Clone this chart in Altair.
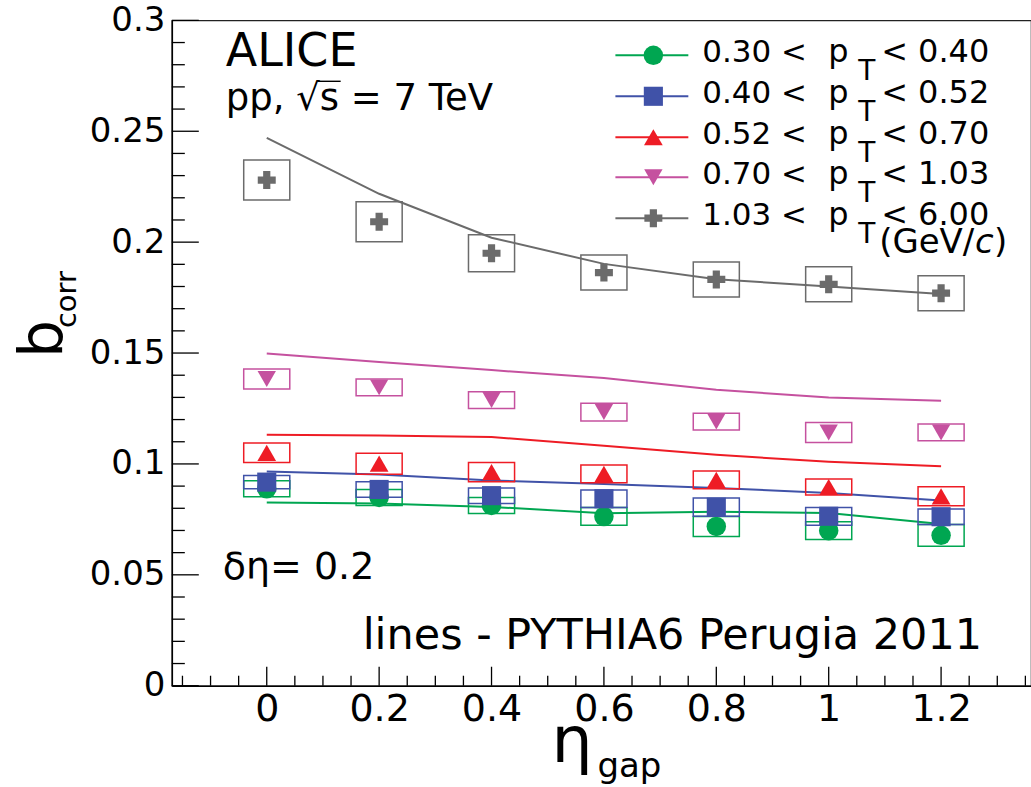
import altair as alt
import pandas as pd

# ---------------- data ----------------
eta_gap = [0.0, 0.2, 0.4, 0.6, 0.8, 1.0, 1.2]

series_names = ["0.30-0.40", "0.40-0.52", "0.52-0.70", "0.70-1.03", "1.03-6.00"]
low_labels = ["0.30 <", "0.40 <", "0.52 <", "0.70 <", "1.03 <"]
high_labels = ["< 0.40", "< 0.52", "< 0.70", "< 1.03", "< 6.00"]
colors = ["#00a651", "#4052a8", "#ee1c25", "#c5519f", "#6b6b6b"]
shapes = ["circle", "square", "triangle-up", "triangle-down", "cross"]
sizes = [380, 324, 420, 420, 460]

# measured b_corr (points)
b_030_040 = [0.0888, 0.0849, 0.0813, 0.0763, 0.0718, 0.0699, 0.0678]
b_040_052 = [0.0918, 0.0885, 0.0857, 0.0843, 0.0805, 0.0764, 0.0762]
b_052_070 = [0.1050, 0.1001, 0.0963, 0.0955, 0.0928, 0.0896, 0.0854]
b_070_103 = [0.1383, 0.1345, 0.1288, 0.1234, 0.1191, 0.1142, 0.1142]
b_103_600 = [0.2280, 0.2092, 0.1950, 0.1863, 0.1832, 0.1810, 0.1770]

# systematic half heights (boxes)
sys_030_040 = [0.0036, 0.0036, 0.0036, 0.0040, 0.0045, 0.0040, 0.0049]
sys_040_052 = [0.0030, 0.0035, 0.0035, 0.0040, 0.0041, 0.0040, 0.0035]
sys_052_070 = [0.0044, 0.0047, 0.0043, 0.0040, 0.0040, 0.0036, 0.0043]
sys_070_103 = [0.0045, 0.0038, 0.0038, 0.0040, 0.0038, 0.0045, 0.0038]
sys_103_600 = [0.0090, 0.0090, 0.0083, 0.0079, 0.0079, 0.0079, 0.0079]

# PYTHIA6 Perugia 2011 lines
m_030_040 = [0.0826, 0.0822, 0.0806, 0.0778, 0.0784, 0.0779, 0.0729]
m_040_052 = [0.0966, 0.0952, 0.0925, 0.0910, 0.0892, 0.0869, 0.0835]
m_052_070 = [0.1132, 0.1128, 0.1121, 0.1082, 0.1041, 0.1010, 0.0990]
m_070_103 = [0.1498, 0.1460, 0.1423, 0.1387, 0.1334, 0.1300, 0.1285]
m_103_600 = [0.2470, 0.2218, 0.2020, 0.1902, 0.1833, 0.1800, 0.1766]

box_half_width = 0.041

x_tick_labels = [0.0, 0.2, 0.4, 0.6, 0.8, 1.0, 1.2]
y_tick_labels = [0.0, 0.05, 0.1, 0.15, 0.2, 0.25, 0.3]
x_minor = [round(i * 0.05, 2) for i in range(-3, 28)]
y_minor = [round(i * 0.01, 2) for i in range(1, 30)]

# ---------------- tables ----------------
points = [b_030_040, b_040_052, b_052_070, b_070_103, b_103_600]
syss = [sys_030_040, sys_040_052, sys_052_070, sys_070_103, sys_103_600]
models = [m_030_040, m_040_052, m_052_070, m_070_103, m_103_600]

rows = []
for k, name in enumerate(series_names):
    for i, e in enumerate(eta_gap):
        rows.append({
            "series": name, "eta": e, "b": points[k][i], "model": models[k][i],
            "lo": points[k][i] - syss[k][i], "hi": points[k][i] + syss[k][i],
            "x1": e - box_half_width, "x2": e + box_half_width,
        })
df = pd.DataFrame(rows)

W, H = 860, 666
OX, OY = 172, 20  # plot origin in the page
XDOM = [-0.1689, 1.36]
YDOM = [0.0, 0.3]

xs = alt.Scale(domain=XDOM, nice=False, zero=False)
ys = alt.Scale(domain=YDOM, nice=False, zero=False)
cscale = alt.Scale(domain=series_names, range=colors)
sscale = alt.Scale(domain=series_names, range=shapes)
zscale = alt.Scale(domain=series_names, range=sizes)
FONT = "DejaVu Sans"

base = alt.Chart(df)

x_axis = alt.Axis(values=x_tick_labels, format="~g", ticks=False, domain=True,
                  domainColor="black", domainWidth=1.5, grid=False,
                  labelFont=FONT, labelFontSize=38, labelColor="black",
                  labelPadding=5, title=None, labelFlush=False)
y_axis = alt.Axis(values=y_tick_labels, format="~g", ticks=False, domain=True,
                  domainColor="black", domainWidth=1.5, grid=False,
                  labelFont=FONT, labelFontSize=34, labelColor="black",
                  labelPadding=7, title=None, labelFlush=False)

lines = base.mark_line(strokeWidth=2).encode(
    x=alt.X("eta:Q", scale=xs, axis=x_axis),
    y=alt.Y("model:Q", scale=ys, axis=y_axis),
    color=alt.Color("series:N", scale=cscale, legend=None),
    detail="series:N",
)

boxes = base.mark_rect(filled=False, strokeWidth=1.5, fillOpacity=0).encode(
    x=alt.X("x1:Q", scale=xs), x2="x2:Q",
    y=alt.Y("lo:Q", scale=ys), y2="hi:Q",
    stroke=alt.Color("series:N", scale=cscale, legend=None),
)

marks = base.mark_point(filled=True, opacity=1, strokeWidth=0).encode(
    x=alt.X("eta:Q", scale=xs),
    y=alt.Y("b:Q", scale=ys),
    color=alt.Color("series:N", scale=cscale, legend=None),
    shape=alt.Shape("series:N", scale=sscale, legend=None),
    size=alt.Size("series:N", scale=zscale, legend=None),
)

# ---------------- inward ticks ----------------
xmaj = pd.DataFrame({"v": x_tick_labels})
xmin = pd.DataFrame({"v": [v for v in x_minor if round(v / 0.2, 6) != round(v / 0.2)]})
ymaj = pd.DataFrame({"v": y_tick_labels})
ymin = pd.DataFrame({"v": [v for v in y_minor if round(v / 0.05, 6) != round(v / 0.05)]})

xmaj_t = alt.Chart(xmaj).mark_rule(color="black", strokeWidth=1.3).encode(
    x=alt.X("v:Q", scale=xs), y=alt.value(H), y2=alt.value(H - 19))
xmin_t = alt.Chart(xmin).mark_rule(color="black", strokeWidth=1.3).encode(
    x=alt.X("v:Q", scale=xs), y=alt.value(H), y2=alt.value(H - 10))
ymaj_t = alt.Chart(ymaj).mark_rule(color="black", strokeWidth=1.3).encode(
    y=alt.Y("v:Q", scale=ys), x=alt.value(0), x2=alt.value(27))
ymin_t = alt.Chart(ymin).mark_rule(color="black", strokeWidth=1.3).encode(
    y=alt.Y("v:Q", scale=ys), x=alt.value(0), x2=alt.value(13))


# ---------------- texts ----------------
def txt(s, x, y, size, angle=0, style="normal", align="left", baseline="alphabetic"):
    return alt.Chart(pd.DataFrame({"t": [s]})).mark_text(
        font=FONT, fontSize=size, fontStyle=style, color="black", align=align,
        baseline=baseline, angle=angle,
    ).encode(text="t:N", x=alt.value(x - OX), y=alt.value(y - OY))


texts = [
    txt("ALICE", 226, 66, 46),
    txt("pp, \u221as = 7 TeV", 226, 110, 37),
    txt("\u03b4\u03b7= 0.2", 223, 579, 38),
    txt("lines - PYTHIA6 Perugia 2011", 363, 649, 43),
    txt("\u03b7", 552, 762, 65),
    txt("gap", 598, 777, 34),
    txt("b", 62, 358, 60, angle=270),
    txt("corr", 76, 328, 29, angle=270),
]
# overline of the square root
sqrt_bar = alt.Chart(pd.DataFrame({"k": [0]})).mark_rule(color="black", strokeWidth=1.4).encode(
    x=alt.value(318 - OX), x2=alt.value(341 - OX), y=alt.value(81 - OY))

# ---------------- legend ----------------
leg_marker_y = [55, 96, 137, 177, 218]
leg = []
for k in range(5):
    my = leg_marker_y[k]
    tb = my + 7
    one = pd.DataFrame({"series": [series_names[k]]})
    leg.append(alt.Chart(one).mark_rule(strokeWidth=2).encode(
        x=alt.value(616 - OX), x2=alt.value(689 - OX), y=alt.value(my - OY),
        color=alt.Color("series:N", scale=cscale, legend=None)))
    leg.append(alt.Chart(one).mark_point(filled=True, opacity=1, strokeWidth=0).encode(
        x=alt.value(654 - OX), y=alt.value(my - OY),
        color=alt.Color("series:N", scale=cscale, legend=None),
        shape=alt.Shape("series:N", scale=sscale, legend=None),
        size=alt.Size("series:N", scale=zscale, legend=None)))
    leg.append(txt(low_labels[k], 703, tb, 31))
    leg.append(txt("p", 829, tb, 32))
    leg.append(txt("T", 859, tb + 18, 28))
    leg.append(txt(high_labels[k], 882, tb, 32))
leg.append(txt("(GeV/", 880, 253, 34))
leg.append(txt("c", 880 + 96, 253, 34, style="italic"))
leg.append(txt(")", 880 + 115, 253, 34))

chart = alt.layer(
    lines, boxes, marks, xmaj_t, xmin_t, ymaj_t, ymin_t, *texts, sqrt_bar, *leg
).resolve_scale(
    color="shared"
).properties(
    width=W, height=H,
    autosize=alt.AutoSizeParams(type="none"),
    padding={"left": OX, "top": OY, "right": 0, "bottom": 101},
    background="white",
).configure_view(
    stroke="#222222", strokeWidth=1.2
)

chart.save("out.html", embed_options={"renderer": "svg", "actions": False})
